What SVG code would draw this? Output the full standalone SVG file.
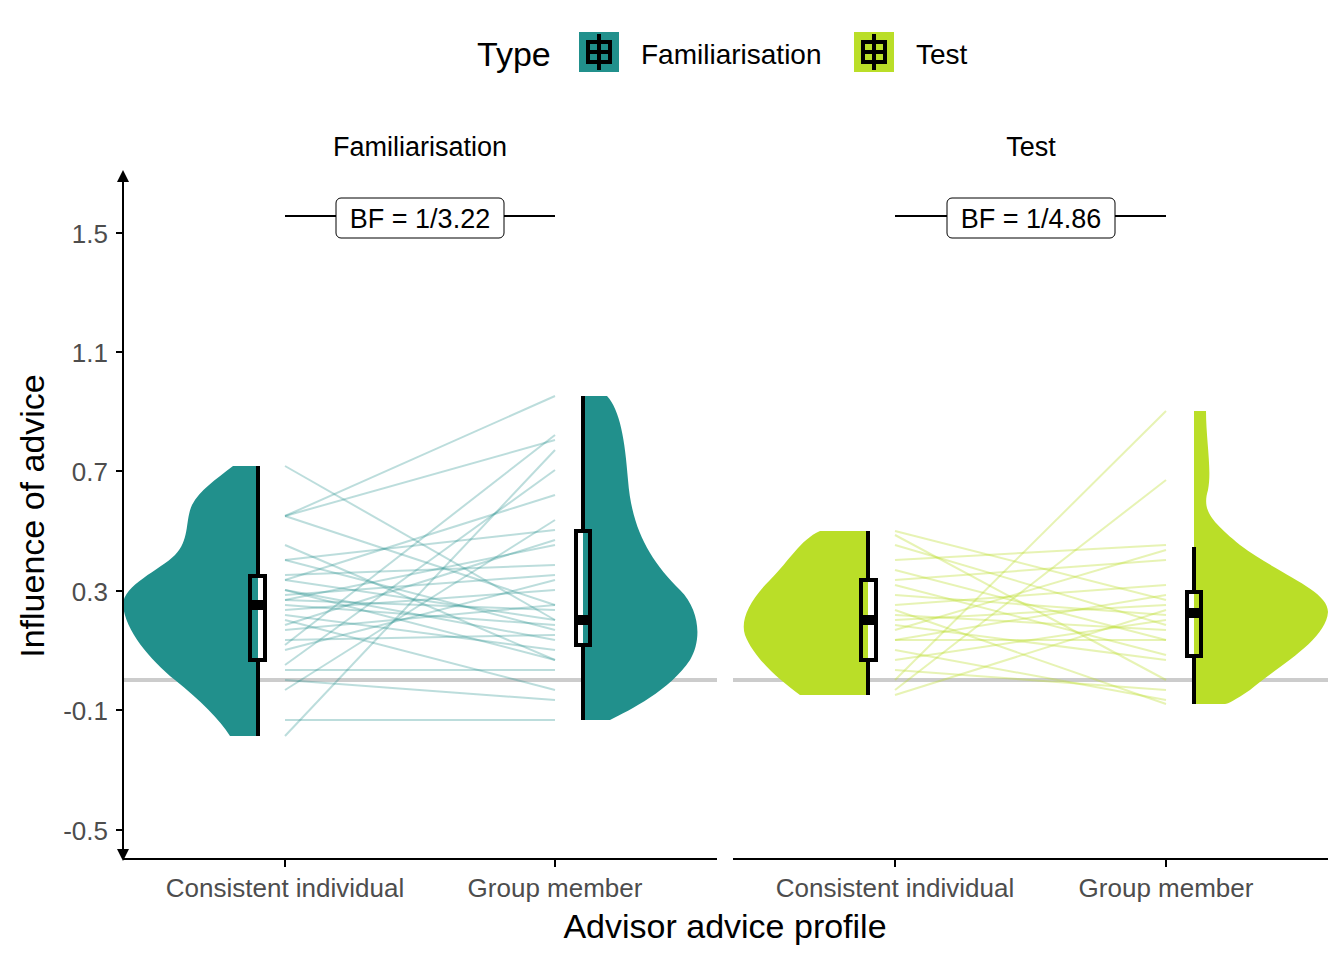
<svg xmlns="http://www.w3.org/2000/svg" width="1344" height="960" viewBox="0 0 1344 960">
<style>
text{font-family:"Liberation Sans",Arial,sans-serif}
.tick{font-size:26px;fill:#4D4D4D}
.ax{stroke:#000;stroke-width:2;fill:none}
.box{stroke:#000;stroke-width:4;fill:none}
.l1 line{stroke:#21908C;stroke-opacity:0.3;stroke-width:2}
.l2 line{stroke:#BADE28;stroke-opacity:0.35;stroke-width:2}
</style>
<defs><marker id="ar" viewBox="0 0 10 10" refX="5" refY="5" markerWidth="6" markerHeight="6" orient="auto-start-reverse"><path d="M0,0L10,5L0,10Z" fill="#000"/></marker></defs>
<rect width="1344" height="960" fill="#fff"/>
<g id="legend">
<text x="477" y="66" font-size="34">Type</text>
<rect x="579" y="32" width="40" height="40" fill="#21908C"/>
<path d="M599,34V70M588,42H610V62H588ZM588,52H610" class="box"/>
<text x="641" y="64" font-size="28">Familiarisation</text>
<rect x="854" y="32" width="40" height="40" fill="#BADE28"/>
<path d="M874,34V70M863,42H885V62H863ZM863,52H885" class="box"/>
<text x="916" y="64" font-size="28">Test</text>
</g>
<text x="420" y="156" font-size="27" text-anchor="middle">Familiarisation</text>
<text x="1031" y="156" font-size="27" text-anchor="middle">Test</text>
<line x1="123" y1="680" x2="717" y2="680" stroke="#ccc" stroke-width="4"/>
<line x1="733" y1="680" x2="1328" y2="680" stroke="#ccc" stroke-width="4"/>
<g class="l1">
<line x1="285" y1="466" x2="555" y2="620"/><line x1="285" y1="516" x2="555" y2="440"/><line x1="285" y1="516" x2="555" y2="605"/>
<line x1="285" y1="516" x2="555" y2="396"/><line x1="285" y1="545" x2="555" y2="660"/><line x1="285" y1="560" x2="555" y2="530"/>
<line x1="285" y1="575" x2="555" y2="565"/><line x1="285" y1="580" x2="555" y2="495"/><line x1="285" y1="590" x2="555" y2="640"/>
<line x1="285" y1="595" x2="555" y2="575"/><line x1="285" y1="600" x2="555" y2="610"/><line x1="285" y1="605" x2="555" y2="625"/>
<line x1="285" y1="610" x2="555" y2="590"/><line x1="285" y1="620" x2="555" y2="690"/><line x1="285" y1="625" x2="555" y2="540"/>
<line x1="285" y1="630" x2="555" y2="605"/><line x1="285" y1="640" x2="555" y2="635"/><line x1="285" y1="645" x2="555" y2="435"/>
<line x1="285" y1="650" x2="555" y2="580"/><line x1="285" y1="665" x2="555" y2="470"/><line x1="285" y1="670" x2="555" y2="670"/>
<line x1="285" y1="680" x2="555" y2="700"/><line x1="285" y1="690" x2="555" y2="520"/><line x1="285" y1="736" x2="555" y2="450"/>
<line x1="285" y1="590" x2="555" y2="660"/><line x1="285" y1="600" x2="555" y2="545"/><line x1="285" y1="720" x2="555" y2="720"/>
<line x1="285" y1="580" x2="555" y2="620"/><line x1="285" y1="615" x2="555" y2="650"/><line x1="285" y1="560" x2="555" y2="630"/>
</g>
<g class="l2">
<line x1="895" y1="531" x2="1166" y2="600"/><line x1="895" y1="535" x2="1166" y2="680"/><line x1="895" y1="545" x2="1166" y2="625"/>
<line x1="895" y1="560" x2="1166" y2="545"/><line x1="895" y1="570" x2="1166" y2="640"/><line x1="895" y1="580" x2="1166" y2="560"/>
<line x1="895" y1="595" x2="1166" y2="615"/><line x1="895" y1="605" x2="1166" y2="585"/><line x1="895" y1="615" x2="1166" y2="630"/>
<line x1="895" y1="620" x2="1166" y2="605"/><line x1="895" y1="625" x2="1166" y2="660"/><line x1="895" y1="630" x2="1166" y2="550"/>
<line x1="895" y1="640" x2="1166" y2="595"/><line x1="895" y1="650" x2="1166" y2="700"/><line x1="895" y1="660" x2="1166" y2="620"/>
<line x1="895" y1="670" x2="1166" y2="690"/><line x1="895" y1="680" x2="1166" y2="411"/><line x1="895" y1="690" x2="1166" y2="480"/>
<line x1="895" y1="695" x2="1166" y2="610"/><line x1="895" y1="610" x2="1166" y2="704"/><line x1="895" y1="585" x2="1166" y2="655"/>
<line x1="895" y1="640" x2="1166" y2="640"/>
</g>
<g id="violins">
<path d="M258,466L233,466C215,480 200,490 192,505C185,520 190,540 175,555C160,570 123,585 123,605C125,630 150,660 175,680C200,700 220,720 230,736L258,736Z" fill="#21908C"/>
<path d="M583,396L607,396C620,410 625,440 628,480C632,530 650,560 680,590C700,610 702,640 690,660C670,690 630,710 610,720L583,720Z" fill="#21908C"/>
<path d="M868,531L820,531C800,540 790,560 770,580C750,600 740,620 745,635C755,660 780,680 800,695L868,695Z" fill="#BADE28"/>
<path d="M1194,411L1206,411C1206,440 1212,470 1208,490C1202,510 1210,520 1240,545C1280,575 1328,590 1328,612C1326,640 1280,665 1250,690C1235,700 1228,704 1225,704L1194,704Z" fill="#BADE28"/>
</g>
<g id="boxes">
<path d="M258,466V576M258,660V736" class="box"/><rect x="250" y="576" width="15" height="84" class="box" fill="#21908C"/><rect x="250" y="600" width="15" height="10" fill="#000"/>
<path d="M583,396V531M583,645V720" class="box"/><rect x="576" y="531" width="14" height="114" class="box" fill="#21908C"/><rect x="576" y="615" width="14" height="10" fill="#000"/>
<path d="M868,531V580M868,660V695" class="box"/><rect x="861" y="580" width="15" height="80" class="box" fill="#BADE28"/><rect x="861" y="615" width="15" height="10" fill="#000"/>
<path d="M1194,547V592M1194,656V704" class="box"/><rect x="1187" y="592" width="14" height="64" class="box" fill="#BADE28"/><rect x="1187" y="608" width="14" height="10" fill="#000"/>
</g>
<g id="bf">
<path d="M285,216H555M895,216H1166" class="ax"/>
<rect x="336" y="198" width="168" height="40" rx="5" fill="#fff" stroke="#000"/>
<text x="420" y="228" font-size="27" text-anchor="middle">BF = 1/3.22</text>
<rect x="947" y="198" width="168" height="40" rx="5" fill="#fff" stroke="#000"/>
<text x="1031" y="228" font-size="27" text-anchor="middle">BF = 1/4.86</text>
</g>
<g id="axes">
<line x1="123" y1="176" x2="123" y2="855" class="ax" marker-start="url(#ar)" marker-end="url(#ar)"/>
<path d="M116,233H123M116,352H123M116,471H123M116,591H123M116,710H123M116,830H123" class="ax"/>
<path d="M123,859H717M733,859H1328M285,859V867M555,859V867M895,859V867M1166,859V867" class="ax"/>
<g class="tick" text-anchor="end">
<text x="108" y="243">1.5</text><text x="108" y="362">1.1</text><text x="108" y="481">0.7</text><text x="108" y="601">0.3</text><text x="108" y="720">-0.1</text><text x="108" y="840">-0.5</text>
</g>
<g class="tick" text-anchor="middle">
<text x="285" y="897">Consistent individual</text><text x="555" y="897">Group member</text>
<text x="895" y="897">Consistent individual</text><text x="1166" y="897">Group member</text>
</g>
<text x="725" y="938" font-size="34" text-anchor="middle">Advisor advice profile</text>
<text transform="translate(44,516) rotate(-90)" font-size="34" text-anchor="middle">Influence of advice</text>
</g>
</svg>
